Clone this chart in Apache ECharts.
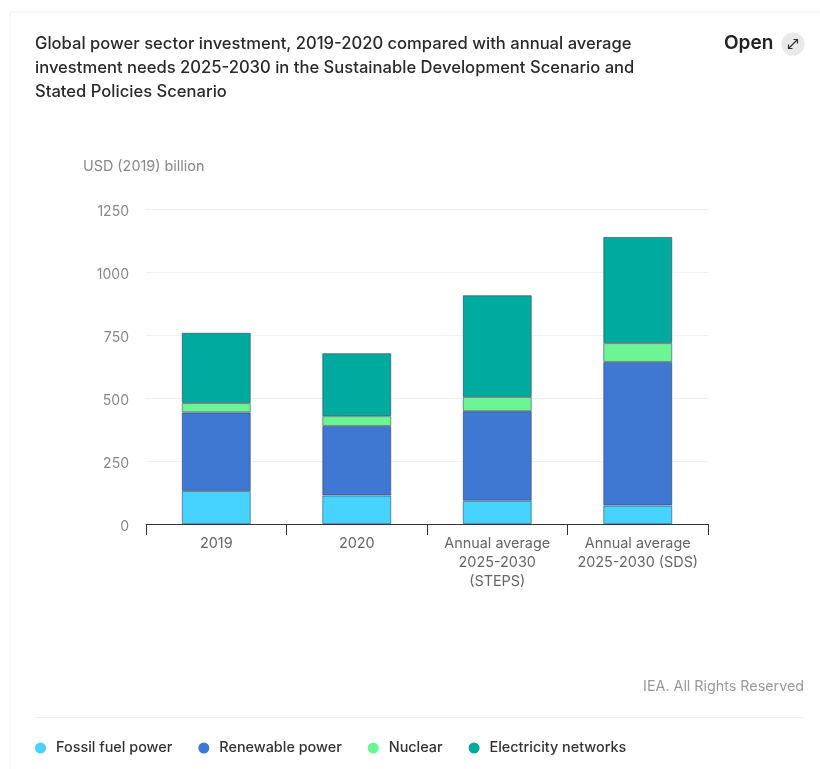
<!DOCTYPE html>
<html>
<head>
<meta charset="utf-8">
<style>html,body{margin:0;padding:0;background:#fff}#chart{width:820px;height:769px}</style>
<script src="https://cdn.jsdelivr.net/npm/echarts@6/dist/echarts.min.js"></script>
</head>
<body>
<div id="chart"></div>
<script>
const categories = ['2019', '2020', 'Annual average\n2025-2030\n(STEPS)', 'Annual average\n2025-2030 (SDS)'];
const fossilFuel = [131, 113, 92, 73];
const renewable = [312, 276, 356, 570];
const nuclear = [37, 39, 56, 75];
const networks = [279, 250, 404, 421];
const yTicks = [0, 250, 500, 750, 1000, 1250];
const titleLines = 'Global power sector investment, 2019-2020 compared with annual average\ninvestment needs 2025-2030 in the Sustainable Development Scenario and\nStated Policies Scenario';

const FONT = 'Inter, Roboto, sans-serif';
const bar = (name, data, color) => ({
  name, type: 'bar', stack: 'total', data, barWidth: 69,
  itemStyle: { color, borderColor: 'rgba(35,45,70,0.5)', borderWidth: 1 }
});

const chart = echarts.init(document.getElementById('chart'), null, { renderer: 'canvas' });
chart.setOption({
  animation: false,
  backgroundColor: '#fff',
  textStyle: { fontFamily: FONT },
  title: {
    text: titleLines, left: 35, top: 32, padding: 0,
    textStyle: { fontFamily: FONT, fontSize: 16.6, fontWeight: 500, color: '#2a2a2a', lineHeight: 24 }
  },
  grid: { left: 146, right: 112, top: 209, bottom: 245 },
  legend: {
    left: 35, top: 741, padding: 0, itemWidth: 11, itemHeight: 11, itemGap: 26, icon: 'circle',
    itemStyle: { borderWidth: 0 },
    textStyle: { fontFamily: FONT, fontSize: 14.4, fontWeight: 500, color: '#333', padding: [0, 0, 0, 5] },
    data: ['Fossil fuel power', 'Renewable power', 'Nuclear', 'Electricity networks']
  },
  xAxis: {
    type: 'category', data: categories,
    axisLine: { lineStyle: { color: '#333', width: 1 } },
    axisTick: { show: true, alignWithLabel: false, length: 11, lineStyle: { color: '#333' } },
    axisLabel: { color: '#666', fontSize: 14.4, lineHeight: 19, margin: 10, interval: 0 }
  },
  yAxis: {
    type: 'value', min: yTicks[0], max: yTicks[yTicks.length - 1], interval: yTicks[1] - yTicks[0],
    name: 'USD (2019) billion', nameLocation: 'end', nameGap: 35,
    nameTextStyle: { color: '#888', fontSize: 14.4, align: 'left', padding: [0, 0, 0, -63] },
    axisLine: { show: false }, axisTick: { show: false },
    axisLabel: { color: '#888', fontSize: 14, margin: 17, verticalAlign: 'top', lineHeight: 5, formatter: v => String(v) },
    splitLine: { lineStyle: { color: '#f0f0f0', width: 1 } }
  },
  series: [
    bar('Fossil fuel power', fossilFuel, '#47d3ff'),
    bar('Renewable power', renewable, '#3e78d2'),
    bar('Nuclear', nuclear, '#6cf595'),
    bar('Electricity networks', networks, '#00aa9e')
  ],
  graphic: [
    // card edges and footer divider
    { type: 'line', shape: { x1: 10, y1: 12, x2: 820, y2: 12 }, style: { stroke: '#f0f0f0', lineWidth: 1 } },
    { type: 'line', shape: { x1: 10, y1: 12, x2: 10, y2: 769 }, style: { stroke: '#f0f0f0', lineWidth: 1 } },
    { type: 'line', shape: { x1: 35, y1: 717.5, x2: 804, y2: 717.5 }, style: { stroke: '#efefef', lineWidth: 1 } },
    { type: 'text', x: 804, y: 680, style: { text: 'IEA. All Rights Reserved', align: 'right', fill: '#999', font: '14.3px ' + FONT } },
    // expand control
    { type: 'text', x: 724, y: 34, style: { text: 'Open', fill: '#222', font: '600 19px ' + FONT } },
    { type: 'circle', shape: { cx: 793, cy: 44, r: 11.5 }, style: { fill: '#e9e9e9' } },
    { type: 'line', shape: { x1: 788.5, y1: 48.5, x2: 797.5, y2: 39.5 }, style: { stroke: '#333', lineWidth: 1.2 } },
    { type: 'polyline', shape: { points: [[793.5, 39.5], [797.5, 39.5], [797.5, 43.5]] }, style: { stroke: '#333', fill: 'none', lineWidth: 1.2 } },
    { type: 'polyline', shape: { points: [[788.5, 44.5], [788.5, 48.5], [792.5, 48.5]] }, style: { stroke: '#333', fill: 'none', lineWidth: 1.2 } }
  ]
});
</script>
</body>
</html>
